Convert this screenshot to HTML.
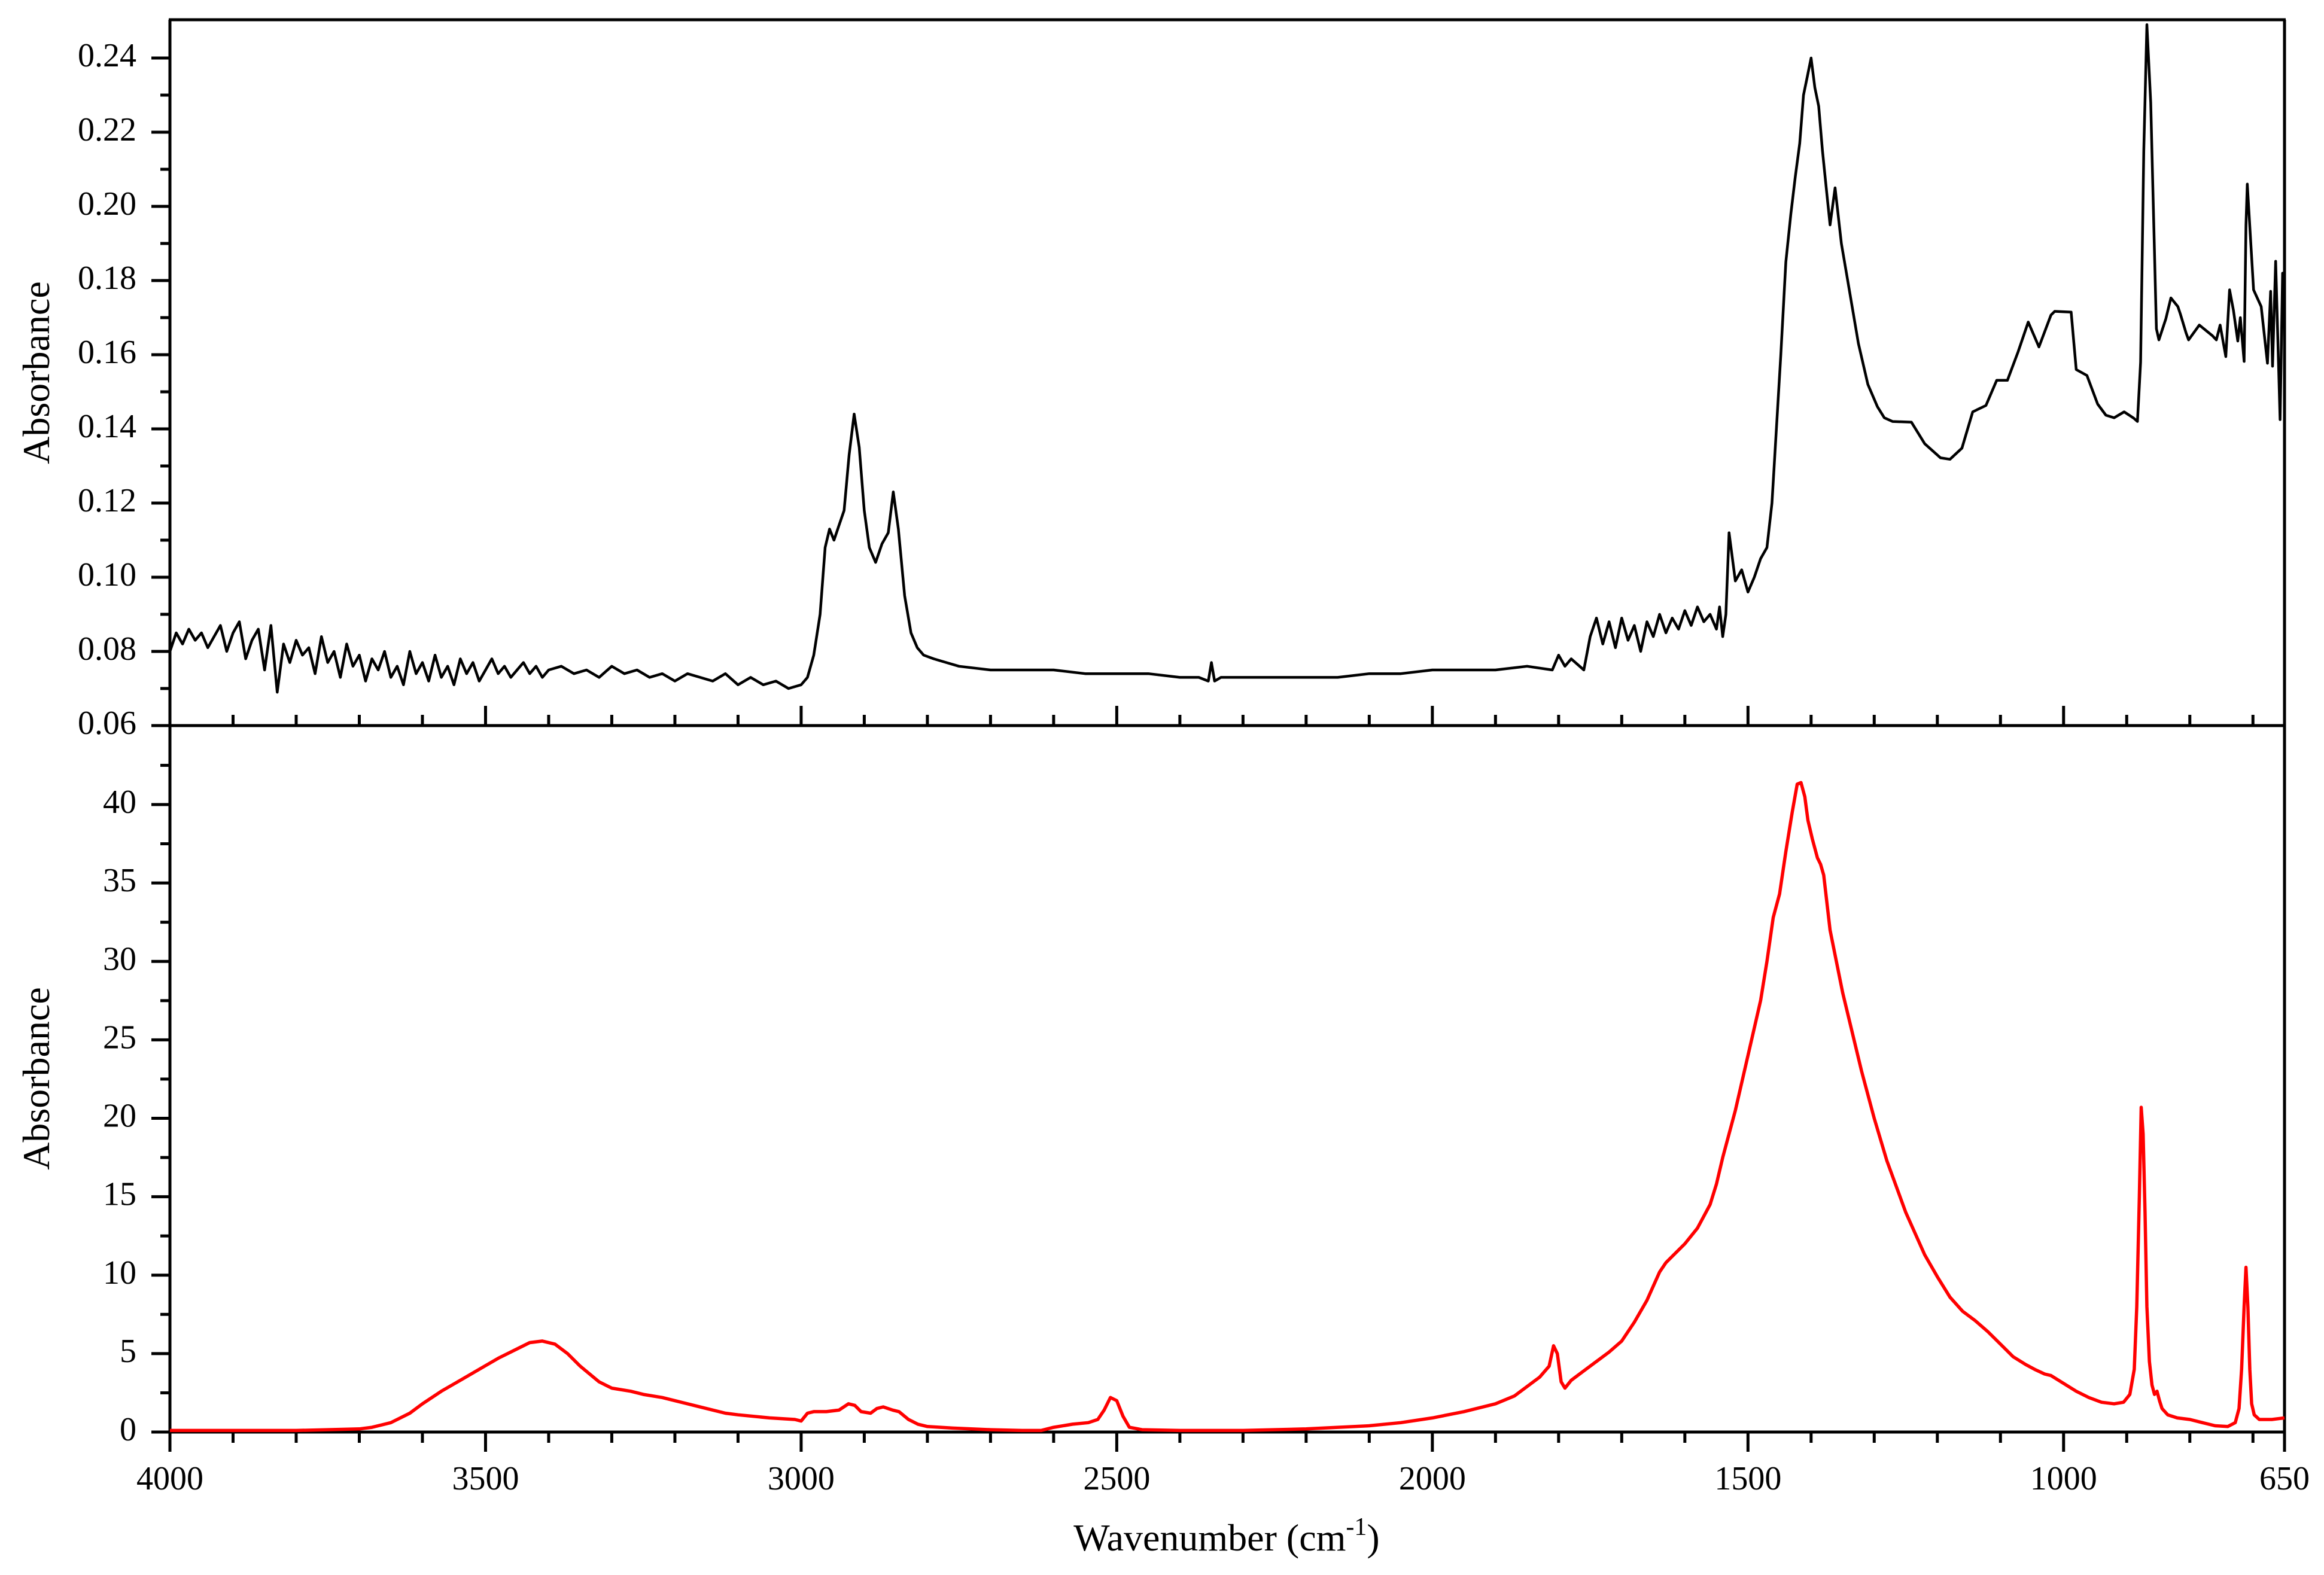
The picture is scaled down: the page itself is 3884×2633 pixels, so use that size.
<!DOCTYPE html>
<html><head><meta charset="utf-8"><style>
html,body{margin:0;padding:0;background:#fff}
svg{display:block}
text{font-family:"Liberation Serif",serif;fill:#000}
</style></head><body>
<svg id="chart" width="3884" height="2633" viewBox="0 0 3884 2633" xmlns="http://www.w3.org/2000/svg">
<g id="axes"></g>
<path id="lineA" fill="none" stroke="#000" stroke-width="4.5" stroke-linejoin="round"/>
<path id="lineB" fill="none" stroke="#ff0000" stroke-width="5.5" stroke-linejoin="round"/>
<text transform="translate(82,623) rotate(-90)" text-anchor="middle" font-size="64">Absorbance</text>
<text transform="translate(82,1803) rotate(-90)" text-anchor="middle" font-size="64">Absorbance</text>
<text x="2050" y="2592" text-anchor="middle" font-size="64">Wavenumber (cm<tspan dy="-26" font-size="42">-1</tspan><tspan dy="26">)</tspan></text>
</svg>
<script>
const wnA=[4000,3990,3980,3970,3960,3950,3940,3930,3920,3910,3900,3890,3880,3870,3860,3850,3840,3830,3820,3810,3800,3790,3780,3770,3760,3750,3740,3730,3720,3710,3700,3690,3680,3670,3660,3650,3640,3630,3620,3610,3600,3590,3580,3570,3560,3550,3540,3530,3520,3510,3500,3490,3480,3470,3460,3450,3440,3430,3420,3410,3400,3380,3360,3340,3320,3300,3280,3260,3240,3220,3200,3180,3160,3140,3120,3100,3080,3060,3040,3020,3000,2990,2980,2970,2962,2955,2948,2940,2932,2924,2916,2908,2900,2892,2882,2872,2862,2854,2846,2836,2826,2816,2806,2790,2770,2750,2700,2650,2600,2550,2500,2450,2400,2370,2355,2350,2345,2335,2300,2250,2200,2150,2100,2050,2000,1950,1900,1850,1810,1800,1790,1780,1760,1750,1740,1730,1720,1710,1700,1690,1680,1670,1660,1650,1640,1630,1620,1610,1600,1590,1580,1570,1560,1550,1545,1540,1535,1530,1520,1510,1500,1490,1480,1470,1462,1455,1448,1440,1432,1425,1418,1412,1406,1400,1394,1388,1382,1376,1370,1362,1352,1340,1325,1310,1295,1284,1271,1241,1220,1195,1180,1161,1144,1123,1106,1089,1072,1056,1039,1020,1014,988,980,963,946,933,920,904,889,883,878,873,868,862,853,849,838,830,819,815,806,802,785,764,758,752,743,737,731,724,720,714,711,709,699,695,687,677,672,669,664,657,653,650];
const absA=[0.080,0.085,0.082,0.086,0.083,0.085,0.081,0.084,0.087,0.080,0.085,0.088,0.078,0.083,0.086,0.075,0.087,0.069,0.082,0.077,0.083,0.079,0.081,0.074,0.084,0.077,0.080,0.073,0.082,0.076,0.079,0.072,0.078,0.075,0.080,0.073,0.076,0.071,0.080,0.074,0.077,0.072,0.079,0.073,0.076,0.071,0.078,0.074,0.077,0.072,0.075,0.078,0.074,0.076,0.073,0.075,0.077,0.074,0.076,0.073,0.075,0.076,0.074,0.075,0.073,0.076,0.074,0.075,0.073,0.074,0.072,0.074,0.073,0.072,0.074,0.071,0.073,0.071,0.072,0.070,0.071,0.073,0.079,0.090,0.108,0.113,0.110,0.114,0.118,0.133,0.144,0.135,0.118,0.108,0.104,0.109,0.112,0.123,0.113,0.095,0.085,0.081,0.079,0.078,0.077,0.076,0.075,0.075,0.075,0.074,0.074,0.074,0.073,0.073,0.072,0.077,0.072,0.073,0.073,0.073,0.073,0.073,0.074,0.074,0.075,0.075,0.075,0.076,0.075,0.079,0.076,0.078,0.075,0.084,0.089,0.082,0.088,0.081,0.089,0.083,0.087,0.080,0.088,0.084,0.090,0.085,0.089,0.086,0.091,0.087,0.092,0.088,0.090,0.086,0.092,0.084,0.090,0.112,0.099,0.102,0.096,0.100,0.105,0.108,0.120,0.140,0.160,0.185,0.198,0.208,0.217,0.230,0.235,0.240,0.232,0.227,0.215,0.205,0.195,0.205,0.190,0.178,0.163,0.152,0.146,0.143,0.142,0.1418,0.136,0.1322,0.1318,0.1348,0.1446,0.1463,0.1531,0.1531,0.1608,0.1688,0.1621,0.1707,0.1717,0.1715,0.156,0.1544,0.1467,0.1437,0.143,0.1446,0.1429,0.142,0.158,0.215,0.249,0.228,0.167,0.164,0.1697,0.1753,0.173,0.171,0.1659,0.164,0.168,0.1651,0.164,0.168,0.1595,0.1775,0.172,0.1637,0.170,0.1582,0.195,0.206,0.1775,0.176,0.173,0.1577,0.1771,0.1569,0.1852,0.1425,0.182,0.170,0.172];
const wnB=[4000,3900,3800,3750,3700,3680,3650,3620,3600,3570,3540,3510,3480,3450,3430,3410,3390,3370,3350,3320,3300,3270,3250,3220,3200,3170,3150,3120,3100,3050,3010,3000,2990,2980,2960,2940,2925,2915,2905,2890,2880,2870,2855,2845,2830,2815,2800,2760,2700,2650,2620,2600,2570,2545,2530,2520,2510,2500,2490,2480,2460,2400,2300,2200,2100,2050,2000,1950,1900,1870,1850,1830,1815,1808,1802,1796,1790,1780,1760,1740,1720,1700,1680,1660,1640,1630,1620,1600,1580,1560,1550,1540,1520,1500,1480,1470,1460,1450,1440,1430,1422,1416,1410,1405,1398,1390,1385,1380,1370,1350,1320,1300,1280,1250,1220,1200,1180,1160,1140,1120,1100,1080,1060,1046,1030,1020,1000,980,960,940,920,905,895,888,884,880,877,874,871,868,864,860,856,852,848,844,835,820,800,780,760,740,728,722,718,714,711,708,705,702,698,690,670,650];
const absB=[0.1,0.1,0.1,0.15,0.2,0.3,0.6,1.2,1.8,2.6,3.3,4.0,4.7,5.3,5.7,5.8,5.6,5.0,4.2,3.2,2.8,2.6,2.4,2.2,2.0,1.7,1.5,1.2,1.1,0.9,0.8,0.7,1.2,1.3,1.3,1.4,1.8,1.7,1.3,1.2,1.5,1.6,1.4,1.3,0.8,0.5,0.35,0.25,0.15,0.1,0.1,0.3,0.5,0.6,0.8,1.4,2.2,2.0,1.0,0.3,0.15,0.1,0.1,0.2,0.4,0.6,0.9,1.3,1.8,2.3,2.9,3.5,4.2,5.5,5.0,3.2,2.8,3.3,3.9,4.5,5.1,5.8,7.0,8.4,10.2,10.8,11.2,12.0,13.0,14.5,15.8,17.5,20.5,24.0,27.5,30.0,32.8,34.3,37.0,39.5,41.3,41.4,40.5,39.0,37.8,36.6,36.2,35.5,32.0,28.0,23.0,20.0,17.3,14.0,11.3,9.9,8.6,7.7,7.1,6.4,5.6,4.8,4.3,4.0,3.7,3.6,3.1,2.6,2.2,1.9,1.8,1.9,2.4,4.0,8.0,15.0,20.7,19.0,14.0,8.0,4.5,3.0,2.4,2.6,2.0,1.5,1.1,0.9,0.8,0.6,0.4,0.35,0.6,1.5,4.0,8.0,10.5,8.0,4.0,1.8,1.1,0.8,0.8,0.9];
const ticksXMajor=[4000,3500,3000,2500,2000,1500,1000,650];
const ticksXLabel=["4000","3500","3000","2500","2000","1500","1000","650"];
const ticksXMinor=[3900,3800,3700,3600,3400,3300,3200,3100,2900,2800,2700,2600,2400,2300,2200,2100,1900,1800,1700,1600,1400,1300,1200,1100,900,800,700];
const ticksAMajor=[0.06,0.08,0.10,0.12,0.14,0.16,0.18,0.20,0.22,0.24];
const ticksAMinor=[0.07,0.09,0.11,0.13,0.15,0.17,0.19,0.21,0.23,0.25];
const ticksBMajor=[0,5,10,15,20,25,30,35,40];
const ticksBMinor=[2.5,7.5,12.5,17.5,22.5,27.5,32.5,37.5,42.5];

const L=284,R=3818,T=33,M=1213,B=2394;
const x=w=>L+(4000-w)/3350*(R-L);
const yA=v=>M-(v-0.06)*6200;
const yB=v=>B-v*26.225;
const NS="http://www.w3.org/2000/svg";
const ax=document.getElementById('axes');
function mk(tag,attrs,parent){const e=document.createElementNS(NS,tag);for(const k in attrs)e.setAttribute(k,attrs[k]);(parent||ax).appendChild(e);return e;}
function ln(x1,y1,x2,y2,nm){const e=mk('line',{x1:x1,y1:y1,x2:x2,y2:y2,stroke:'#000','stroke-width':5});

return e;}
ln(L-2,T,R+2,T,'top-panel-top-border');
ln(L,T,L,B+2,'left-axis-line');
ln(R,T,R,B+2,'right-border');
ln(L-2,M,R+2,M,'panel-divider-axis');
ln(L-2,B,R+2,B,'x-axis-line');
ticksXMajor.forEach(w=>{ln(x(w),M,x(w),M-33,'top-x-major-tick');});
ticksXMinor.forEach(w=>{ln(x(w),M,x(w),M-18,'top-x-minor-tick');});
ticksXMajor.forEach((w,i)=>{ln(x(w),B,x(w),B+33,'x-major-tick');
const t=mk('text',{x:x(w),y:2490,'text-anchor':'middle','font-size':56});t.textContent=ticksXLabel[i];

});
ticksXMinor.forEach(w=>{ln(x(w),B,x(w),B+18,'x-minor-tick');});
ticksAMajor.forEach(v=>{ln(L,yA(v),L-31,yA(v),'top-y-major-tick');
const t=mk('text',{x:228,y:yA(v)+14,'text-anchor':'end','font-size':56});t.textContent=v.toFixed(2);

});
ticksAMinor.forEach(v=>{if(yA(v)>T+2)ln(L,yA(v),L-16,yA(v),'top-y-minor-tick');});
ticksBMajor.forEach(v=>{ln(L,yB(v),L-31,yB(v),'bottom-y-major-tick');
const t=mk('text',{x:228,y:yB(v)+14,'text-anchor':'end','font-size':56});t.textContent=String(v);

});
ticksBMinor.forEach(v=>{if(yB(v)>M+2)ln(L,yB(v),L-16,yB(v),'bottom-y-minor-tick');});
document.getElementById('lineA').setAttribute('d',wnA.map((w,i)=>(i?'L':'M')+x(w).toFixed(1)+','+yA(absA[i]).toFixed(1)).join(''));
document.getElementById('lineB').setAttribute('d',wnB.map((w,i)=>(i?'L':'M')+x(w).toFixed(1)+','+yB(absB[i]).toFixed(1)).join(''));
</script>
</body></html>
